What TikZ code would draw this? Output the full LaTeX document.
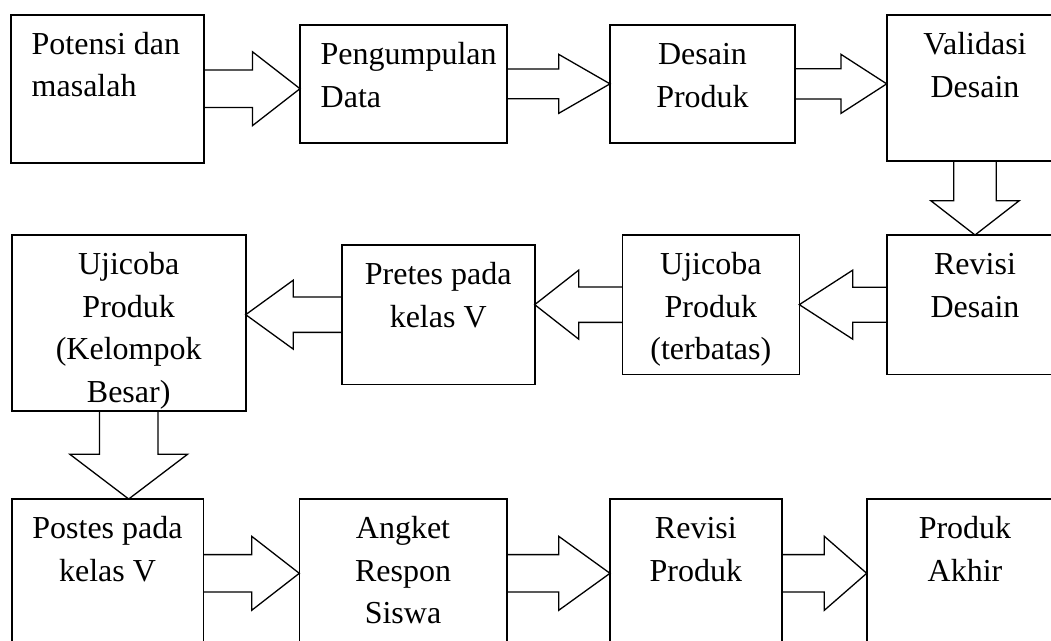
\documentclass[tikz,border=0pt]{standalone}
\usepackage{fontspec}
\setmainfont{Liberation Serif}
\usetikzlibrary{calc}

% block arrows: from, to, shaft half width, head half width, head length
\newcommand{\rightblock}[5]{%
	\draw[blockarrow] let \p1=(#1.east), \p2=(#2.west) in
	(\x1,\y1+#3pt) -- (\x2-#5pt,\y1+#3pt) -- (\x2-#5pt,\y1+#4pt) -- (\x2,\y1)
	-- (\x2-#5pt,\y1-#4pt) -- (\x2-#5pt,\y1-#3pt) -- (\x1,\y1-#3pt);}
\newcommand{\leftblock}[5]{%
	\draw[blockarrow] let \p1=(#1.west), \p2=(#2.east) in
	(\x1,\y1+#3pt) -- (\x2+#5pt,\y1+#3pt) -- (\x2+#5pt,\y1+#4pt) -- (\x2,\y1)
	-- (\x2+#5pt,\y1-#4pt) -- (\x2+#5pt,\y1-#3pt) -- (\x1,\y1-#3pt);}
\newcommand{\downblock}[5]{%
	\draw[blockarrow] let \p1=(#1.south), \p2=(#2.north) in
	(\x1-#3pt,\y1) -- (\x1-#3pt,\y2+#5pt) -- (\x1-#4pt,\y2+#5pt) -- (\x1,\y2)
	-- (\x1+#4pt,\y2+#5pt) -- (\x1+#3pt,\y2+#5pt) -- (\x1+#3pt,\y1);}

\begin{document}
\begin{tikzpicture}[
		x=1pt, y=-1pt,
		font=\fontsize{32}{42.5}\selectfont,
		box/.style={
			draw,
			line width=1.6pt,
			outer sep=0pt,
			inner ysep=0pt,
			inner xsep=6pt,
			anchor=north west,
			align=flush center,
			text height=39.5pt
		},
		leftbox/.style={box, align=flush left},
		blockarrow/.style={line width=1.3pt, line join=miter}
		]
		\useasboundingbox (0,0) rectangle (1051,640);
		
		% ---- Baris 1 ----
		\node[leftbox, inner xsep=21pt, text width=151.3pt, text depth=108.5pt] (potensi) at (10.7,14.7)
		{Potensi dan\\masalah};
		\node[leftbox, inner xsep=20.7pt, text width=165.3pt, text depth=78.2pt] (data) at (300,25)
		{Pengumpulan\\Data};
		\node[box, text width=173pt, text depth=78.2pt] (desain) at (610,25)
		{Desain\\Produk};
		\node[box, text width=164.6pt, text depth=106.5pt] (validasi) at (886.7,15)
		{Validasi\\Desain};
		
		% ---- Baris 2 ----
		\node[box, text width=164.6pt, text depth=99.8pt] (revdesain) at (886.7,235)
		{Revisi\\Desain};
		\node[box, text width=165pt, text depth=99.8pt] (terbatas) at (622.3,235)
		{Ujicoba\\Produk\\(terbatas)};
		\node[box, text width=181pt, text depth=99.8pt] (pretes) at (341.7,245)
		{Pretes pada\\kelas V};
		\node[box, text width=222pt, text depth=136.5pt] (besar) at (11.7,235)
		{Ujicoba\\Produk\\(Kelompok\\Besar)};
		
		% ---- Baris 3 ----
		\node[box, text width=179.6pt, text depth=109.1pt] (postes) at (11.7,499)
		{Postes pada\\kelas V};
		\node[box, text width=195.4pt, text depth=109.1pt] (angket) at (299.3,499)
		{Angket\\Respon\\Siswa};
		\node[box, text width=159.7pt, text depth=109.1pt] (revproduk) at (610,499)
		{Revisi\\Produk};
		\node[box, text width=184.6pt, text depth=109.1pt] (akhir) at (866.7,499)
		{Produk\\Akhir};
		
		% ---- Panah ----
		\rightblock{potensi}{data}{18.7}{37}{47.6}
		\rightblock{data}{desain}{14.8}{29.5}{51.3}
		\rightblock{desain}{validasi}{15.2}{29.5}{45.7}
		\downblock{validasi}{revdesain}{21.3}{44.2}{34.3}
		\leftblock{revdesain}{terbatas}{17.5}{34.5}{53.4}
		\leftblock{terbatas}{pretes}{17.7}{34.5}{44}
		\leftblock{pretes}{besar}{17.7}{34.5}{47.6}
		\downblock{besar}{postes}{29.2}{58.8}{44.7}
		\rightblock{postes}{angket}{18.7}{37}{47.6}
		\rightblock{angket}{revproduk}{18.7}{37}{51.3}
		\rightblock{revproduk}{akhir}{18.7}{37}{42.4}
		
	\end{tikzpicture}
\end{document}
